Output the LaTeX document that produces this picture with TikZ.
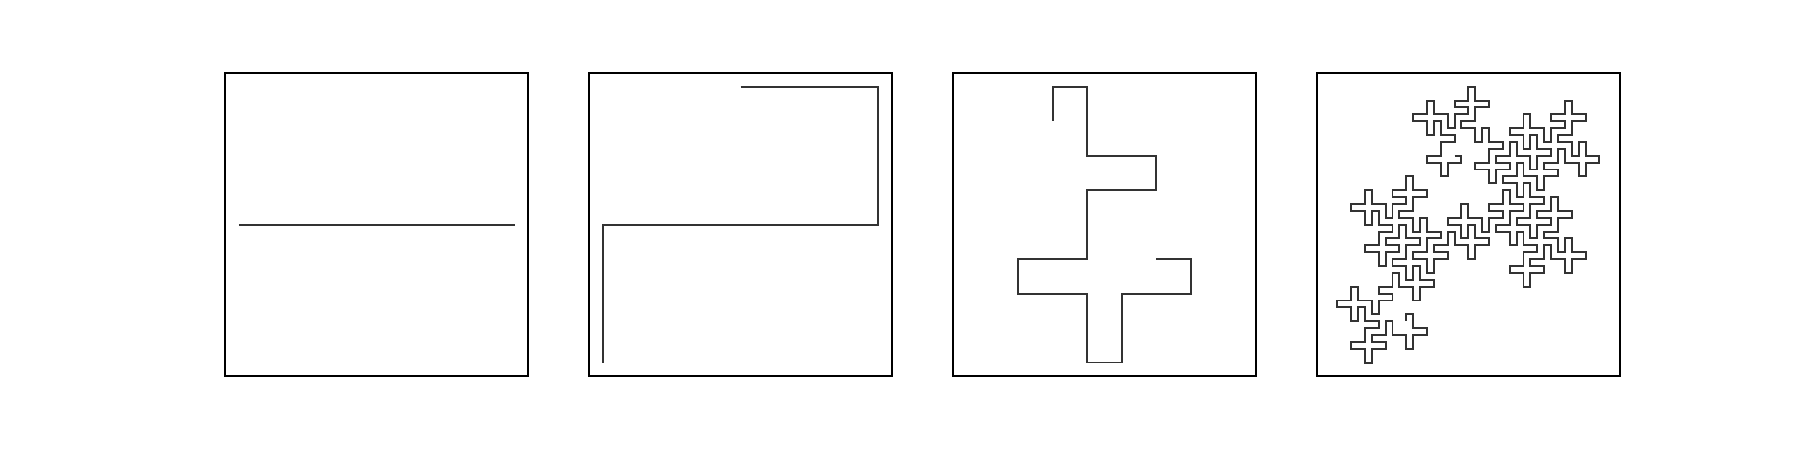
\documentclass[tikz,border=0pt]{standalone}
\usetikzlibrary{lindenmayersystems}

% A is the curve, B the same curve run backwards
\pgfdeclarelindenmayersystem{cross curve}{
  \symbol{A}{\pgflsystemdrawforward}
  \symbol{B}{\pgflsystemdrawforward}
  \rule{A -> A-A-AB+B+}
  \rule{B -> -A-AB+B+B}
}

\begin{document}
\begin{tikzpicture}[
  panel/.style={draw=black, line width=0.6pt, minimum size=3.033cm, inner sep=0pt, outer sep=0pt},
  curve/.style={draw=black!80, line width=0.55pt},
]
\useasboundingbox (0,0) rectangle (18,4.5);

% Frames
\node[panel] (order0) at (3.7665,2.2535) {};
\node[panel] (order1) at (7.4055,2.2535) {};
\node[panel] (order2) at (11.0445,2.2535) {};
\node[panel] (order4) at (14.6835,2.2535) {};

% Curves, each one centred in its frame
\draw[curve, shift={(order0.center)}, shift={(-1.3786,0)},
  l-system={cross curve, axiom=A, order=0, step=2.7573cm, angle=90}] l-system;
\draw[curve, shift={(order1.center)}, shift={(0,1.37864)},
  l-system={cross curve, axiom=A, order=1, step=1.37864cm, angle=90}] l-system;
\draw[curve, shift={(order2.center)}, shift={(0.51699,-0.34466)},
  l-system={cross curve, axiom=A, order=2, step=0.344659cm, angle=90}] l-system;
\draw[curve, shift={(order4.center)}, shift={(-0.13786,0.68932)},
  l-system={cross curve, axiom=A, order=4, step=0.0689318cm, angle=90}] l-system;

\end{tikzpicture}
\end{document}
